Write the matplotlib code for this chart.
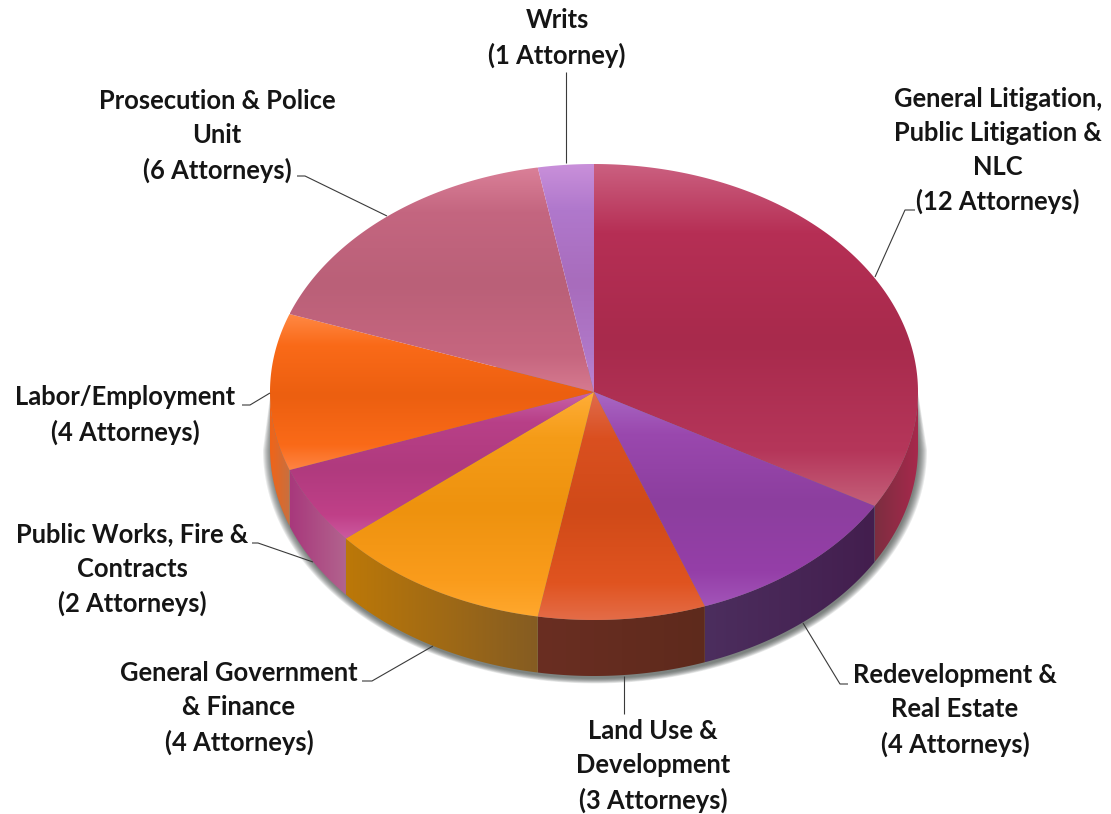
import numpy as np
import matplotlib
matplotlib.use("Agg")
import matplotlib.pyplot as plt
from matplotlib.colors import LinearSegmentedColormap
from matplotlib.path import Path
from matplotlib.patches import PathPatch

# data
units = ["General Litigation,\nPublic Litigation &\nNLC", "Redevelopment &\nReal Estate",
         "Land Use &\nDevelopment", "General Government\n& Finance",
         "Public Works, Fire &\nContracts", "Labor/Employment",
         "Prosecution & Police\nUnit", "Writs"]
attorneys = [12, 4, 3, 4, 2, 4, 6, 1]

top_colours = [
    ["#CB6080", "#B62F55", "#A82A4C", "#B5365A", "#C4607A"],
    ["#A968C4", "#9A48AE", "#8C3E9E", "#953FA8", "#A254B8"],
    ["#E06C4E", "#DA5020", "#D04A18", "#E05420", "#E46C48"],
    ["#FFAE38", "#F59C18", "#EE920E", "#FA9C1C", "#FFA82E"],
    ["#C862A8", "#B84088", "#B03A7E", "#C04088", "#CC5AA0"],
    ["#FF8844", "#FA6A18", "#EC5F10", "#FA6A18", "#FF8444"],
    ["#DA8098", "#C46680", "#BA6078", "#C6667F", "#D67A90"],
    ["#C990DA", "#B078CC", "#A86CBC", "#B078C8", "#BC86D4"],
]
side_colours = [
    ["#7C2E40", "#A8284C"],
    ["#4C2E5E", "#431E4E"],
    ["#6A2E22", "#5E2A1C"],
    ["#BC7808", "#855C22"],
    ["#A8387C", "#B2648E"],
    ["#F06418", "#C87040"],
    ["#B65C76", "#B65C76"],
    ["#A86CBC", "#A86CBC"],
]
stops = [0, 0.2, 0.52, 0.84, 1]
label_pos = [(998, 150.5), (955, 710), (653, 766), (239, 708), (132, 569.5),
             (125, 415), (217, 136), (557, 38)]
leaders = [
    [(915, 210), (905, 210), (875, 277)],
    [(848, 684), (840, 684), (803, 623)],
    [(624, 714), (624, 676)],
    [(362, 681), (372, 681), (433, 646)],
    [(252, 543), (258, 543), (313, 562)],
    [(242, 405), (250, 405), (270, 393)],
    [(297, 176), (305, 176), (387, 216)],
    [(566, 72), (566, 163)],
]

# pie geometry (pixels)
CX, CY, RX, RY, DEPTH = 594, 392, 324, 228, 56

fig = plt.figure(figsize=(11.11, 8.14), dpi=100, facecolor="white")
ax = fig.add_axes([0, 0, 1, 1])
ax.set_xlim(0, 1111)
ax.set_ylim(814, 0)
ax.axis("off")


def rim(a0, a1, dy=0.0, n=160):
    t = np.radians(np.linspace(a0, a1, n))
    return np.column_stack([CX + RX * np.sin(t), CY + dy - RY * np.cos(t)])


def fill(vertices, colours, vertical, z):
    poly = Path(np.vstack([vertices, vertices[:1]]), closed=True)
    patch = PathPatch(poly, fc="none", ec="none", transform=ax.transData)
    ax.add_patch(patch)
    x0, y0 = vertices.min(axis=0)
    x1, y1 = vertices.max(axis=0)
    g = np.linspace(0, 1, 256)
    arr = g[:, None] if vertical else g[None, :]
    if len(colours) == len(stops):
        cmap = LinearSegmentedColormap.from_list("g", list(zip(stops, colours)))
    else:
        cmap = LinearSegmentedColormap.from_list("g", colours)
    im = ax.imshow(arr, cmap=cmap, extent=(x0, x1, y1, y0), aspect="auto",
                   interpolation="bilinear", zorder=z, vmin=0, vmax=1)
    im.set_clip_path(patch)


# soft shadow under the lower rim
for r in np.arange(9, 0, -1.0):
    t = np.radians(np.linspace(90, 270, 240))
    low = np.column_stack([CX + 1 + (RX + r - 1) * np.sin(t),
                           CY + DEPTH + 2 + (RY + r * 0.6) * -np.cos(t)])
    shape = np.vstack([[CX + RX - 4, CY - 25], low, [CX - RX + 4, CY - 25]])
    ax.fill(shape[:, 0], shape[:, 1], color="#3C4440", alpha=0.11, lw=0, zorder=1)

angles = np.concatenate([[0], np.cumsum(attorneys)]) / np.sum(attorneys) * 360

# side wall, visible between 90 and 270 degrees
for i in range(len(attorneys)):
    a0, a1 = max(angles[i], 90), min(angles[i + 1], 270)
    if a0 < a1:
        upper = rim(a0, a1)
        lower = rim(a1, a0, DEPTH)
        fill(np.vstack([upper, lower]), side_colours[i], False, 2)

# top face
for i in range(len(attorneys)):
    arc = rim(angles[i], angles[i + 1])
    fill(np.vstack([[[CX, CY]], arc]), top_colours[i], True, 3)

# leaders and labels
for pts in leaders:
    xs, ys = zip(*pts)
    ax.plot(xs, ys, color="#3A3A3A", lw=0.8, zorder=4, solid_capstyle="butt")

for name, n, (x, y) in zip(units, attorneys, label_pos):
    word = "Attorney" if n == 1 else "Attorneys"
    ax.text(x, y, f"{name}\n({n} {word})", ha="center", va="center", ma="center",
            fontfamily="Lato", fontweight="bold", fontsize=18.4, color="#151515",
            linespacing=1.5, zorder=5)

fig.savefig("out.png", dpi=100, facecolor="white")
